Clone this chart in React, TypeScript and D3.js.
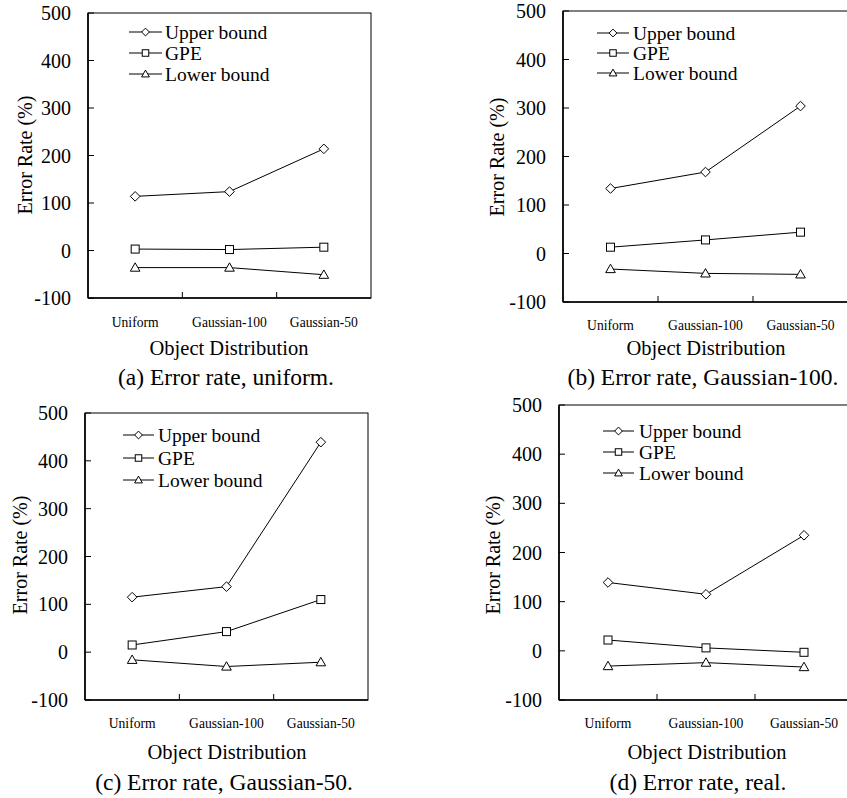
import React from "react";
import * as d3 from "d3";

const categories = ["Uniform", "Gaussian-100", "Gaussian-50"];
const seriesNames = ["Upper bound", "GPE", "Lower bound"];
const yTicks = [-100, 0, 100, 200, 300, 400, 500];

const upperA = [114, 124, 214];
const gpeA = [3, 2, 7];
const lowerA = [-36, -36, -51];

const upperB = [134, 168, 304];
const gpeB = [13, 28, 44];
const lowerB = [-32, -41, -43];

const upperC = [115, 137, 439];
const gpeC = [15, 43, 110];
const lowerC = [-16, -30, -21];

const upperD = [139, 115, 235];
const gpeD = [22, 6, -3];
const lowerD = [-31, -24, -33];

const captions = [
  "(a) Error rate, uniform.",
  "(b) Error rate, Gaussian-100.",
  "(c) Error rate, Gaussian-50.",
  "(d) Error rate, real.",
];

const FONT = '"Liberation Serif"';

type Layout = {
  left: number; right: number; top: number; bottom: number;
  ylabX: number; ylabY: number;
  catY: number; titleX: number; titleY: number; capX: number; capY: number;
  legX0: number; legX1: number; legTextX: number; legY: number[];
};

const layouts: Layout[] = [
  { left: 88, right: 371, top: 13, bottom: 298, ylabX: 25, ylabY: 155, catY: 327, titleX: 229, titleY: 355, capX: 226, capY: 385, legX0: 129, legX1: 162, legTextX: 165, legY: [32, 53, 74] },
  { left: 563, right: 848, top: 11, bottom: 302, ylabX: 497, ylabY: 157, catY: 330, titleX: 706, titleY: 355, capX: 703, capY: 385, legX0: 597, legX1: 629, legTextX: 633, legY: [33, 53, 73] },
  { left: 85, right: 368, top: 413, bottom: 700, ylabX: 20, ylabY: 555, catY: 728, titleX: 227, titleY: 759, capX: 224, capY: 790, legX0: 123, legX1: 154, legTextX: 158, legY: [435, 458, 480] },
  { left: 559, right: 853, top: 405, bottom: 700, ylabX: 493, ylabY: 555, catY: 728, titleX: 707, titleY: 759, capX: 698, capY: 790, legX0: 603, legX1: 634, legTextX: 639, legY: [431, 452, 473] },
];

const panelData = [
  [upperA, gpeA, lowerA],
  [upperB, gpeB, lowerB],
  [upperC, gpeC, lowerC],
  [upperD, gpeD, lowerD],
];

function Marker({ kind, x, y, s }: { kind: number; x: number; y: number; s: number }) {
  const common = { fill: "#fff", stroke: "#000", strokeWidth: 1 };
  if (kind === 0) {
    const h = s * 0.6;
    return <path d={`M${x},${y - h}L${x + h},${y}L${x},${y + h}L${x - h},${y}Z`} {...common} />;
  }
  if (kind === 1) {
    const h = s / 2;
    return <rect x={x - h} y={y - h} width={s} height={s} {...common} />;
  }
  const h = s * 0.6;
  return <path d={`M${x},${y - h}L${x + h},${y + h * 0.75}L${x - h},${y + h * 0.75}Z`} {...common} />;
}

const ts = (size: number) => ({ fontFamily: FONT, fontSize: size });

function Panel({ L, data, caption }: { L: Layout; data: number[][]; caption: string }) {
  const x = d3.scaleBand<string>().domain(categories).range([L.left, L.right]).padding(0);
  const y = d3.scaleLinear().domain([-100, 500]).range([L.bottom, L.top]);
  const cx = (c: string) => (x(c) as number) + x.bandwidth() / 2;
  const line = d3
    .line<number>()
    .x((_, i) => cx(categories[i]))
    .y((v) => y(v));
  return (
    <g>
      <rect x={L.left} y={L.top} width={L.right - L.left} height={L.bottom - L.top} fill="none" stroke="#000" strokeWidth={1} />
      <line x1={L.left} x2={L.left} y1={L.top} y2={L.bottom} stroke="#000" strokeWidth={1.6} />
      <line x1={L.left} x2={L.right} y1={L.bottom} y2={L.bottom} stroke="#000" strokeWidth={1.6} />
      {yTicks.map((t) => (
        <g key={t}>
          <line x1={L.left} x2={L.left + 6} y1={y(t)} y2={y(t)} stroke="#000" strokeWidth={1} />
          <text x={L.left - 17} y={y(t)} dy="0.35em" textAnchor="end" style={ts(20)}>
            {t}
          </text>
        </g>
      ))}
      {categories.slice(1).map((c) => (
        <line key={c} x1={x(c)} x2={x(c)} y1={L.bottom} y2={L.bottom - 6} stroke="#000" strokeWidth={1} />
      ))}
      {categories.map((c) => (
        <text key={c} x={cx(c)} y={L.catY} textAnchor="middle" fill="#000" style={ts(13.6)}>
          {c}
        </text>
      ))}
      <text x={L.titleX} y={L.titleY} textAnchor="middle" style={ts(20.5)}>
        Object Distribution
      </text>
      <text x={L.capX} y={L.capY} textAnchor="middle" style={ts(23.5)}>
        {caption}
      </text>
      <text
        transform={`translate(${L.ylabX},${L.ylabY}) rotate(-90)`}
        textAnchor="middle"
        dy="0.35em"
        style={ts(20)}
      >
        Error Rate (%)
      </text>
      {data.map((vals, si) => (
        <g key={si}>
          <path d={line(vals) || ""} fill="none" stroke="#000" strokeWidth={1} />
          {vals.map((v, i) => (
            <Marker key={i} kind={si} x={cx(categories[i])} y={y(v)} s={8} />
          ))}
        </g>
      ))}
      {seriesNames.map((n, si) => (
        <g key={n}>
          <line x1={L.legX0} x2={L.legX1} y1={L.legY[si]} y2={L.legY[si]} stroke="#000" strokeWidth={1} />
          <Marker kind={si} x={(L.legX0 + L.legX1) / 2} y={L.legY[si]} s={6.5} />
          <text x={L.legTextX} y={L.legY[si]} dy="0.35em" style={ts(19.5)}>
            {n}
          </text>
        </g>
      ))}
    </g>
  );
}

export default function App() {
  return (
    <svg
      width={847}
      height={798}
      style={{ position: "absolute", left: 0, top: 0, background: "#fff" }}
    >
      <rect width={847} height={798} fill="#fff" />
      {layouts.map((L, i) => (
        <Panel key={i} L={L} data={panelData[i]} caption={captions[i]} />
      ))}
    </svg>
  );
}
